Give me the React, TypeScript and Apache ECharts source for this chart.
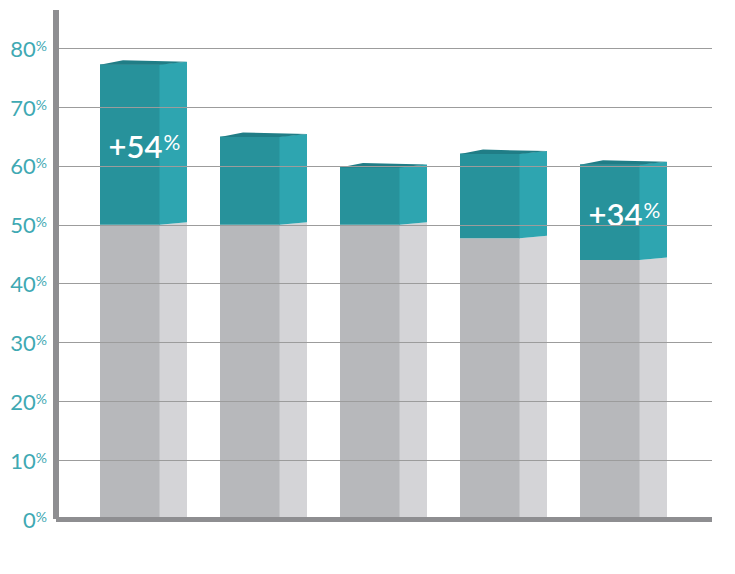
import React, { useEffect, useRef } from "react";
import * as echarts from "echarts";

// ---- data ----
const categories = ["1", "2", "3", "4", "5"];
const baseValues = [50, 50, 50, 47.7, 44]; // grey part (%)
const totalValues = [77.3, 65, 59.8, 62.1, 60.3]; // top of teal part (%)
const growthLabels = ["+54%", "", "", "", "+34%"];
const yMin = 0;
const yLabelMax = 80;
const yInterval = 10;
const yAxisTop = 86.5; // axis line extends above the 80% line

const FRONT_W = 60;
const TOTAL_W = 87;
const SLANT = 2.5;

const colors = {
  base: { front: "#b7b8bb", side: "#d4d4d7", top: "#a9aaad" },
  top: { front: "#27929b", side: "#2ea5b0", top: "#207d86" },
};

function makeRender(kind: "base" | "top") {
  return (params: any, api: any) => {
    const idx = api.value(0);
    const start = api.value(1);
    const end = api.value(2);
    const pB = api.coord([idx, start]);
    const pT = api.coord([idx, end]);
    const cx = pB[0];
    const yB = pB[1];
    const yT = pT[1];
    const x0 = cx - TOTAL_W / 2;
    const x1 = x0 + FRONT_W;
    const x2 = x0 + TOTAL_W;
    const yBs = start > 0 ? yB - SLANT : yB;
    const c = colors[kind];
    const children: any[] = [
      {
        type: "rect",
        shape: { x: x0, y: yT, width: FRONT_W, height: yB - yT },
        style: { fill: c.front },
      },
      {
        type: "polygon",
        shape: {
          points: [
            [x1 - 0.5, yT],
            [x2, yT - SLANT],
            [x2, yBs],
            [x1 - 0.5, yB],
          ],
        },
        style: { fill: c.side },
      },
    ];
    if (kind === "top") {
      children.push({
        type: "polygon",
        shape: {
          points: [
            [x0, yT + 0.5],
            [x0 + 23, yT - 4],
            [x2, yT - SLANT],
            [x1, yT + 0.5],
          ],
        },
        style: { fill: c.top },
      });
      const lbl = growthLabels[params.dataIndex];
      if (lbl) {
        const num = lbl.replace("%", "");
        children.push({
          type: "text",
          x: cx + 1,
          y: (yT + yB) / 2 + 2,
          style: {
            text: `{n|${num}}{p|%}`,
            align: "center",
            verticalAlign: "middle",
            fill: "#ffffff",
            rich: {
              n: {
                fontSize: 31,
                fontFamily: "Lato, 'Open Sans', sans-serif",
                fontWeight: 600,
                fill: "#ffffff",
              },
              p: {
                fontSize: 21,
                fontFamily: "Lato, 'Open Sans', sans-serif",
                fill: "#ffffff",
                padding: [0, 0, 9, 1],
              },
            },
          },
        });
      }
    }
    return { type: "group", children };
  };
}

export default function App() {
  const ref = useRef<HTMLDivElement>(null);
  useEffect(() => {
    document.body.style.margin = "0";
    if (!ref.current) return;
    const chart = echarts.init(ref.current, undefined, { renderer: "svg" });
    const baseData = categories.map((_, i) => [i, 0, baseValues[i]]);
    const topData = categories.map((_, i) => [i, baseValues[i], totalValues[i]]);
    chart.setOption({
      animation: false,
      backgroundColor: "#ffffff",
      grid: [
        { left: 56, right: 23, top: 10, bottom: 55 },
        { left: 83.5, right: 51.5, top: 10, bottom: 55 },
      ],
      xAxis: [
        {
          gridIndex: 0,
          type: "category",
          data: categories,
          z: 10,
          axisLine: {
            show: true,
            lineStyle: { color: "#8e8e91", width: 5, cap: "butt" },
          },
          axisTick: { show: false },
          axisLabel: { show: false },
          splitLine: { show: false },
        },
        {
          gridIndex: 1,
          type: "category",
          data: categories,
          show: false,
        },
      ],
      yAxis: [
        {
          gridIndex: 0,
          type: "value",
          min: yMin,
          max: yAxisTop,
          interval: yInterval,
          z: 10,
          axisLine: {
            show: true,
            lineStyle: { color: "#8e8e91", width: 6, cap: "butt" },
          },
          axisTick: { show: false },
          splitLine: {
            show: true,
            showMaxLine: false,
            showMinLine: false,
            lineStyle: { color: "#9c9c9c", width: 1 },
          },
          axisLabel: {
            margin: 9,
            formatter: (v: number) => (v > yLabelMax ? "" : `{n|${v}}{p|%}`),
            rich: {
              n: {
                fontSize: 22,
                fontFamily: "Lato, 'Open Sans', sans-serif",
                fontWeight: 400,
                color: "#3fa9b3",
              },
              p: {
                fontSize: 14,
                fontFamily: "Lato, 'Open Sans', sans-serif",
                fontWeight: 400,
                color: "#3fa9b3",
                padding: [0, 0, 6, 0],
              },
            },
          },
        },
        {
          gridIndex: 1,
          type: "value",
          min: yMin,
          max: yAxisTop,
          show: false,
          splitLine: { show: false },
        },
      ],
      series: [
        {
          type: "custom",
          xAxisIndex: 1,
          yAxisIndex: 1,
          renderItem: makeRender("base"),
          data: baseData,
          z: 2,
        },
        {
          type: "custom",
          xAxisIndex: 1,
          yAxisIndex: 1,
          renderItem: makeRender("top"),
          data: topData,
          z: 3,
        },
      ],
    });
    return () => chart.dispose();
  }, []);
  return <div ref={ref} style={{ width: 735, height: 574 }} />;
}
